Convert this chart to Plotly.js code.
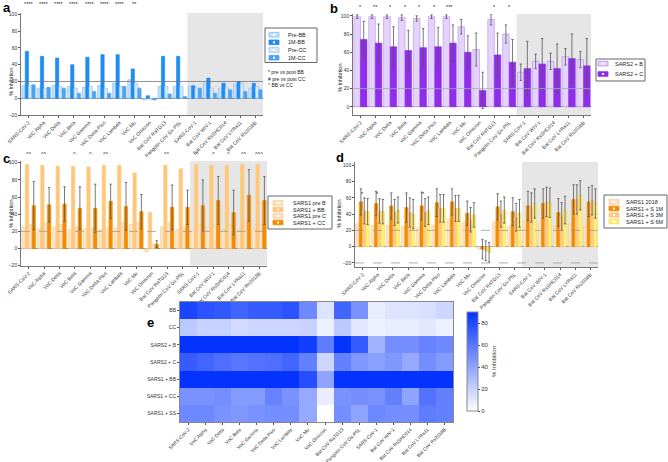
<!DOCTYPE html>
<html><head><meta charset="utf-8">
<script src="https://cdn.plot.ly/plotly-3.0.1.min.js"></script>
<style>html,body{margin:0;padding:0;background:#fff}#chart{width:668px;height:462px}</style>
</head><body><div id="chart"></div>
<script>
const categories = ['SARS-CoV-2','VoC Alpha','VoC Delta','VoC Beta','VoC Gamma','VoC Delta Plus','VoC Lambda','VoC Mu','VoC Omicron','Bat CoV RaTG13','Pangolin CoV Gx-P5L','SARS-CoV-1','Bat CoV WIV-1','Bat CoV RsSHC014','Bat CoV LYRa11','Bat CoV Rs2018B'];

// Panel a
const aPreBB = [15,12,15,14,13,15,18,22,-2,14,14,14,18,12,16,12];
const a1MBB  = [56,50,48,40,49,52,52,35,3,50,50,15,24,18,20,18];
const aPreCC = [15,12,14,12,14,12,14,18,-2,14,14,12,12,12,18,14];
const a1MCC  = [16,13,12,6,8,6,14,12,-2,5,2,12,6,10,8,10];
const sigA   = ['****','****','****','****','****','****','****','**','','','','','','','',''];
const legA   = ['Pre-BB','1M-BB','Pre-CC','1M-CC'];

// Panel b
const bB = [99,99,99,98,97,99,99,88,63,96,80,38,50,50,55,52];
const bC = [74,70,66,62,65,66,70,60,18,57,49,42,47,42,53,45];
const bErrB = [2,2,2,3,3,2,2,8,18,6,10,9,8,9,9,9];
const bErrC = [20,21,22,22,21,21,20,18,20,24,25,30,28,27,27,30];
const sigB = ['*','**','*','*','*','*','***','','','*','*','','','','',''];
const legB = ['SARS2 + B','SARS2 + C'];

// Panel c
const cPreB = [25,23,25,22,23,22,24,28,-4,25,22,20,25,22,22,23];
const cBB   = [98,97,96,96,95,97,97,88,42,97,93,98,97,97,98,98];
const cPreC = [28,30,28,25,24,24,30,30,5,30,25,28,26,28,30,28];
const cCC   = [50,51,52,47,47,55,49,43,5,48,48,50,56,42,62,56];
const cErrCC = [28,20,20,25,28,20,28,20,4,26,20,30,28,26,30,28];
const sigC = ['^^','^^','','^','^','^^','','','','^^','','^','^','^','^^','^^^'];
const legC = ['SARS1 pre B','SARS1 + BB','SARS1 pre C','SARS1 + CC'];

// Panel d
const d2018 = [28,26,26,25,23,26,33,30,-3,30,25,30,28,25,28,25];
const d1M   = [55,53,50,48,50,54,55,41,-3,49,43,50,53,42,58,55];
const d3M   = [44,44,42,42,42,47,47,33,-5,40,36,48,55,37,58,57];
const d6M   = [43,43,45,40,44,47,47,39,-7,45,41,53,54,45,63,53];
const dErr  = [16,15,16,18,17,17,16,15,12,16,17,18,18,17,18,18];
const sigD = ['*','*','','','*','','','','','','','','','','',''];
const legD = ['SARS1 2018','SARS1 + S 1M','SARS1 + S 3M','SARS1 + S 6M'];

// Panel e
const eRows = ['BB','CC','SARS2 + B','SARS2 + C','SARS1 + BB','SARS1 + CC','SARS1 + SS'];
const eVals = [
  [82,76,74,68,72,72,76,52,12,68,48,8,12,12,14,18],
  [24,20,20,16,18,18,18,20,6,24,10,6,8,8,10,6],
  [98,98,98,97,97,98,98,85,58,93,72,33,50,50,55,52],
  [72,68,64,60,62,64,68,56,18,56,46,42,46,38,50,44],
  [97,95,95,95,94,95,96,78,40,97,90,98,96,92,98,98],
  [48,48,50,44,44,55,48,38,8,48,50,48,56,40,62,56],
  [52,52,48,46,48,50,50,38,0,50,40,52,50,50,58,56]
];

const W = 668, H = 462;
const fx = p => p / W, fy = p => 1 - p / H;
const FAM = 'Liberation Sans, Arial, sans-serif';
const tickF = {family:FAM, size:5, color:'#333'};

const colA = [['#C5E0FA','#7DB9F2'],['#1E8CF0','#1E8CF0'],['#D6E9FB','#8BC2F3'],['#4DA3F2','#4DA3F2']];
const colB = [['#E4D3FA','#B98AF0'],['#8E2EEA','#8E2EEA']];
const colC = [['#FDE6C8','#F8C88A'],['#FFC77A','#FFC77A'],['#FBE3C8','#F8C88A'],['#F28C00','#F28C00']];
const colD = [['#FCE4C8','#F8C88A'],['#F28C00','#F28C00'],['#FFC98A','#FFC98A'],['#FFF07A','#F5DC50']];

function bar(name, y, col, xa, ya, err) {
  const t = {type:'bar', name, x:categories, y, xaxis:xa, yaxis:ya, showlegend:false,
    marker:{color:col[0], line:{color:col[1], width:0.6}}};
  if (err) t.error_y = {type:'data', array:err, visible:true, color:'#555', thickness:0.8, width:1.2};
  return t;
}

const traces = [
  bar(legA[0], aPreBB, colA[0], 'x','y'),
  bar(legA[1], a1MBB, colA[1], 'x','y'),
  bar(legA[2], aPreCC, colA[2], 'x','y'),
  bar(legA[3], a1MCC, colA[3], 'x','y'),
  bar(legB[0], bB, colB[0], 'x2','y2', bErrB),
  bar(legB[1], bC, colB[1], 'x2','y2', bErrC),
  bar(legC[0], cPreB, colC[0], 'x3','y3'),
  bar(legC[1], cBB, colC[1], 'x3','y3'),
  bar(legC[2], cPreC, colC[2], 'x3','y3'),
  bar(legC[3], cCC, colC[3], 'x3','y3', cErrCC),
  bar(legD[0], d2018, colD[0], 'x4','y4'),
  bar(legD[1], d1M, colD[1], 'x4','y4', dErr),
  bar(legD[2], d3M, colD[2], 'x4','y4', dErr),
  bar(legD[3], d6M, colD[3], 'x4','y4', dErr),
  {type:'heatmap', x:categories, y:eRows, z:eVals, xaxis:'x5', yaxis:'y5', zmin:0, zmax:90,
   colorscale:[[0,'#ffffff'],[1,'#0433ff']], showscale:true,
   colorbar:{x:fx(457), xanchor:'left', y:fy(421), yanchor:'bottom', len:119/H, lenmode:'fraction',
     thickness:11, outlinecolor:'#888', outlinewidth:1, tickvals:[0,20,40,60,80], ticks:'outside', ticklen:2,
     tickfont:{family:FAM, size:6, color:'#333'},
     title:{text:'% Inhibition', side:'right', font:{family:FAM, size:6, color:'#333'}}}}
];

function xAx(d, anchor) {
  return {domain:d, anchor, type:'category', range:[-0.5,15.5], tickangle:-45, tickfont:tickF, showline:true,
    linecolor:'#555', linewidth:0.8, ticks:'outside', ticklen:2, tickcolor:'#555', showgrid:false};
}
function yAx(d, anchor, r, tv) {
  return {domain:d, anchor, range:r, tickvals:tv, tickfont:tickF, showline:true, linecolor:'#555', linewidth:0.8,
    ticks:'outside', ticklen:2, tickcolor:'#555', showgrid:false, zeroline:true, zerolinecolor:'#888', zerolinewidth:1};
}

const shapes = [];
function shade(xr, yr, r) {
  shapes.push({type:'rect', xref:xr, yref:yr, x0:10.5, x1:15.5, y0:r[0], y1:r[1], fillcolor:'#E6E6E6', line:{width:0}, layer:'below'});
}
function hline(xr, yr, y, dash, color) {
  shapes.push({type:'line', xref:xr+' domain', yref:yr, x0:0, x1:1, y0:y, y1:y, line:{color:color||'#999', width:0.8, dash:dash||'solid'}, layer:'above'});
}
const rA = [-20,102], rB = [-9,102], rC = [-20,102], rD = [-25,104];
shade('x','y',rA); shade('x2','y2',rB); shade('x3','y3',rC); shade('x4','y4',rD);
hline('x','y',20,'solid','#777'); hline('x2','y2',20,'solid','#aaa'); hline('x3','y3',20,'dash','#999');
hline('x4','y4',20,'dash','#999'); hline('x4','y4',-20,'dash','#999');

const annF = s => ({family:FAM, size:s, color:'#222'});
const annotations = [];
function letter(t, x, y) {
  annotations.push({text:'<b>'+t+'</b>', x:fx(x), y:fy(y), xref:'paper', yref:'paper', xanchor:'left', yanchor:'top', showarrow:false, font:{family:FAM, size:13, color:'#000'}});
}
letter('a',1,-2); letter('b',328,-1); letter('c',1,149); letter('d',334,148); letter('e',145,313);
function ytitle(x, y) {
  annotations.push({text:'% Inhibition', x:fx(x), y:fy(y), xref:'paper', yref:'paper', textangle:-90, showarrow:false, font:annF(5.5)});
}
ytitle(6,66); ytitle(340,62); ytitle(6,214); ytitle(339,214);
annotations.push({text:'* pre vs post BB<br># pre vs post CC<br>° BB vs CC', x:fx(266), y:fy(67), xref:'paper', yref:'paper', xanchor:'left', yanchor:'top', align:'left', showarrow:false, font:annF(5)});

function sig(arr, xr, ypx) {
  arr.forEach((s, i) => { if (s) {
    annotations.push({text:s, x:categories[i], xref:xr, y:fy(ypx), yref:'paper', showarrow:false, font:annF(5.5), yanchor:'middle'});
  }});
}
sig(sigA, 'x', 4); sig(sigB, 'x2', 7); sig(sigC, 'x3', 154); sig(sigD, 'x4', 194);

// manual legends
function legend(names, cols, box, iconX, textX, ys) {
  shapes.push({type:'rect', xref:'paper', yref:'paper', x0:fx(box[0]), x1:fx(box[1]), y0:fy(box[2]), y1:fy(box[3]), line:{color:'#666', width:1}, fillcolor:'#fff', layer:'above'});
  names.forEach((n, i) => {
    shapes.push({type:'rect', xref:'paper', yref:'paper', x0:fx(iconX), x1:fx(iconX+10), y0:fy(ys[i]-2.3), y1:fy(ys[i]+2.3),
      fillcolor:cols[i][0], line:{color:cols[i][1], width:0.8}, layer:'above'});
    shapes.push({type:'rect', xref:'paper', yref:'paper', x0:fx(iconX+4), x1:fx(iconX+6), y0:fy(ys[i]-1), y1:fy(ys[i]+1),
      fillcolor:'#fff', line:{width:0}, layer:'above'});
    annotations.push({text:n, x:fx(textX), y:fy(ys[i]), xref:'paper', yref:'paper', xanchor:'left', yanchor:'middle', showarrow:false, font:annF(5.5)});
  });
}
legend(legA, colA, [265,317,28,62.5], 269, 286, [34.7,42.3,50,57.7]);
legend(legB, colB, [596,645,59,81], 598, 613, [63.6,74]);
legend(legC, colC, [268,332,196,229], 273, 291, [203,209.5,216,222.5]);
legend(legD, colD, [604,667,195,228], 609, 624, [202,208.5,215,221.5]);

const layout = {
  width:W, height:H, margin:{l:0,r:0,t:0,b:0}, paper_bgcolor:'#fff', plot_bgcolor:'rgba(0,0,0,0)',
  barmode:'group', bargap:0.12, bargroupgap:0, showlegend:false,
  xaxis: xAx([fx(21), fx(263)], 'y'), yaxis: yAx([fy(115), fy(12.7)], 'x', rA, [-20,0,20,40,60,80,100]),
  xaxis2: xAx([fx(353), fx(591)], 'y2'), yaxis2: yAx([fy(115), fy(14)], 'x2', rB, [0,20,40,60,80,100]),
  xaxis3: xAx([fx(21), fx(267)], 'y3'), yaxis3: yAx([fy(265.7), fy(161)], 'x3', rC, [-20,0,20,40,60,80,100]),
  xaxis4: xAx([fx(355), fx(598)], 'y4'), yaxis4: yAx([fy(267), fy(162)], 'x4', rD, [-20,0,20,40,60,80,100]),
  xaxis5: {domain:[fx(180), fx(453)], anchor:'y5', tickangle:-45, tickfont:{family:FAM, size:4.8, color:'#333'}, showline:true, mirror:true, linecolor:'#888', linewidth:1, ticks:'outside', ticklen:2, tickcolor:'#555'},
  yaxis5: {domain:[fy(422), fy(302)], anchor:'x5', autorange:'reversed', tickfont:tickF, showline:true, mirror:true, linecolor:'#888', linewidth:1, ticks:'outside', ticklen:2, tickcolor:'#555'},
  shapes, annotations
};

Plotly.newPlot('chart', traces, layout, {displayModeBar:false, staticPlot:true});
</script></body></html>
